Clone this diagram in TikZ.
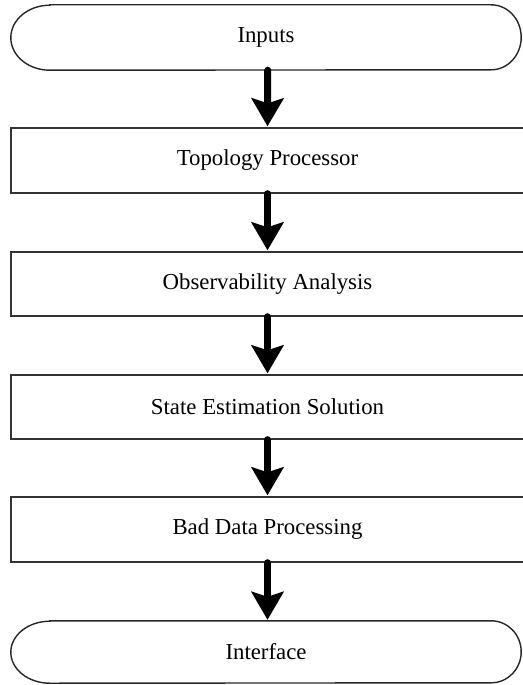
\documentclass[tikz,border=0pt]{standalone}
\usepackage{fontspec}
\setmainfont{Liberation Serif}
\usetikzlibrary{arrows.meta,calc}

\tikzset{
  stepbox/.style={draw=black!80, line width=1.4pt, rectangle,
    minimum width=513pt, minimum height=65pt, inner sep=0pt,
    font=\fontsize{22.8}{27}\selectfont},
  terminal/.style={rectangle, draw=none, minimum width=510pt,
    minimum height=65pt, inner sep=0pt,
    font=\fontsize{22.8}{27}\selectfont},
  termline/.style={draw=black!85, line width=1.4pt},
  flowarrow/.style={draw=black, line width=7pt, line cap=round,
    -{Stealth[length=28pt,width=32pt,inset=5pt,line cap=butt]}},
}

\begin{document}
\begin{tikzpicture}[x=1pt,y=-1pt]
  \useasboundingbox (0,0) rectangle (522,685);

  % start and end terminals
  \node[terminal] (inp) at (266,37.5) {Inputs};
  \node[terminal, minimum height=62pt] (out) at (266,652) {Interface};

  % processing steps
  \node[stepbox] (topo) at (267.5,160.5) {Topology Processor};
  \node[stepbox, minimum height=64pt] (obs) at (267.5,284) {Observability Analysis};
  \node[stepbox, minimum height=64pt] (se) at (267.5,407) {State Estimation Solution};
  \node[stepbox] (bad) at (267.5,529.5) {Bad Data Processing};

  % terminal outlines: flat top and bottom with elliptical ends
  \foreach \t/\ry in {inp/32.5, out/31} {
    \draw[termline]
      ($(\t.north west)+(39,0)$) -- ($(\t.north east)+(-30,0)$)
      arc[start angle=90, end angle=-90, x radius=30pt, y radius=\ry pt]
      -- ($(\t.south west)+(39,0)$)
      arc[start angle=270, end angle=90, x radius=39pt, y radius=\ry pt]
      -- cycle;
  }

  % flow arrows
  \draw[flowarrow] ($(inp.south)+(1.7,0)$) -- ($(topo.north)+(0,-1)$);
  \draw[flowarrow] (topo.south) -- ($(obs.north)+(0,-1)$);
  \draw[flowarrow] (obs.south) -- ($(se.north)+(0,-1)$);
  \draw[flowarrow] (se.south) -- ($(bad.north)+(0,-1)$);
  \draw[flowarrow] (bad.south) -- ($(out.north)+(1.5,-1)$);
\end{tikzpicture}
\end{document}
